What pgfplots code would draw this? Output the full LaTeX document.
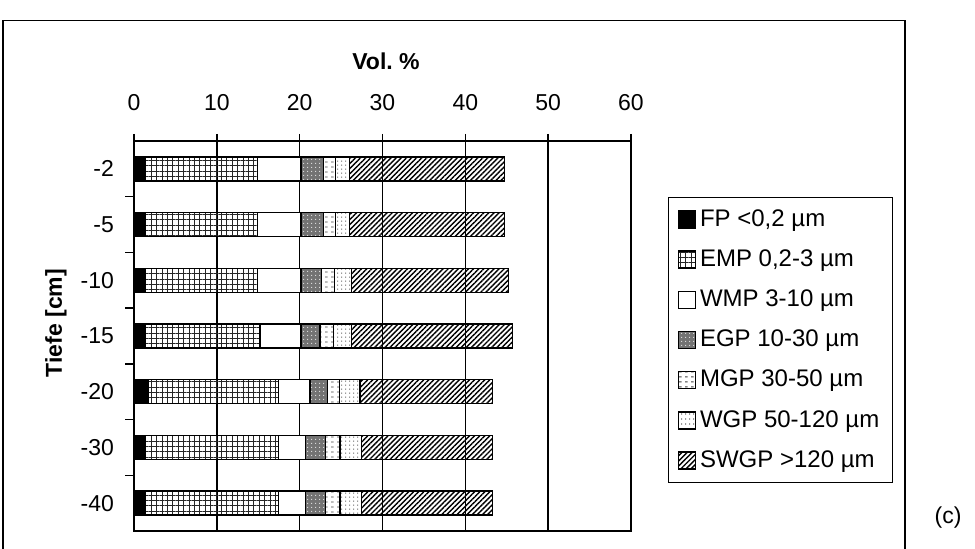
\documentclass[border=0pt]{standalone}
\usepackage{fontspec}
\setmainfont{Liberation Sans}
\usepackage{pgfplots}
\pgfplotsset{compat=1.18}
\usetikzlibrary{patterns,patterns.meta}
\newcommand\cf{\fontsize{11.5pt}{13.8pt}\selectfont}
\newcommand\lf{\fontsize{12pt}{14.4pt}\selectfont}
\pgfdeclarepatternformonly{mgpdash}{\pgfqpoint{0pt}{0pt}}{\pgfqpoint{3pt}{2.5pt}}{\pgfqpoint{3pt}{2.5pt}}{%
  \pgfsetlinewidth{0.5pt}\pgfpathmoveto{\pgfqpoint{0.6pt}{1.2pt}}\pgfpathlineto{\pgfqpoint{2.0pt}{1.2pt}}\pgfusepath{stroke}}
\pgfdeclarepatternformonly{wgpdots}{\pgfqpoint{0pt}{0pt}}{\pgfqpoint{2pt}{2.2pt}}{\pgfqpoint{2pt}{2.2pt}}{%
  \pgfpathrectangle{\pgfqpoint{0.7pt}{0.8pt}}{\pgfqpoint{0.6pt}{0.6pt}}\pgfusepath{fill}}
\pgfdeclarepatternformonly{egpdots}{\pgfqpoint{0pt}{0pt}}{\pgfqpoint{1.8pt}{1.8pt}}{\pgfqpoint{1.8pt}{1.8pt}}{%
  \pgfpathrectangle{\pgfqpoint{0.6pt}{0.6pt}}{\pgfqpoint{0.55pt}{0.55pt}}\pgfusepath{fill}}
\begin{document}
\begin{tikzpicture}
\path[use as bounding box] (0,0) rectangle (487.5pt,-274.5pt);
\draw[line width=0.75pt] (1.5pt,-10.3pt) rectangle (452.5pt,-290pt);
\node[font=\cf] at (474pt,-259pt) {(c)};
\begin{axis}[
  at={(67pt,-70.5pt)}, anchor=north west,
  scale only axis, width=248.5pt, height=195pt,
  xbar stacked, bar width=12pt,
  xmin=0, xmax=60, ymin=-0.5, ymax=6.5, y dir=reverse,
  xtick={0,10,...,60}, xtick pos=right, xticklabel pos=right,
  ytick={0,...,6}, yticklabels={-2,-5,-10,-15,-20,-30,-40}, ytick pos=left,
  minor ytick={0.5,1.5,...,5.5},
  tick align=outside, major tick length=3.5pt, minor tick length=4.5pt,
  major y tick style={draw=none},
  minor y tick style={draw=black, line width=0.75pt},
  major x tick style={draw=black, line width=0.75pt},
  xmajorgrids, grid style={black, line width=0.75pt},
  axis line style={line width=0.75pt},
  tick label style={font=\cf},
  /pgf/number format/assume math mode=true,
  xticklabel shift=8pt,
  yticklabel style={xshift=-3pt},
  xlabel={Vol.\ \%}, ylabel={Tiefe [cm]},
  label style={font=\cf\bfseries},
  xlabel style={at={(axis description cs:0.507,1.205)}, anchor=center},
  ylabel style={at={(axis description cs:-0.157,0.533)}, anchor=center},
  every axis plot/.append style={draw=black, line width=0.75pt},
  legend image code/.code={\draw[#1] (0pt,-4.25pt) rectangle (8.5pt,4.25pt);},
  legend cell align=left,
  legend style={at={(axis description cs:1.0744,0.8564)}, anchor=north west,
    draw=black, line width=0.6pt, font=\lf,
    inner xsep=4.5pt, inner ysep=4pt, row sep=6.2pt,
    /tikz/every even column/.append style={column sep=0pt}},
]
\addplot[fill=black] coordinates {(1.41,0) (1.41,1) (1.41,2) (1.41,3) (1.73,4) (1.41,5) (1.41,6)};
\addlegendentry{FP <0,2 µm}
\addplot[fill=white, pattern={Hatch[angle=0,distance=2.7pt,line width=0.4pt]}, pattern color=black!85] coordinates {(13.52,0) (13.52,1) (13.52,2) (13.80,3) (15.69,4) (16.01,5) (16.01,6)};
\addlegendentry{EMP 0,2-3 µm}
\addplot[fill=white] coordinates {(5.23,0) (5.23,1) (5.23,2) (4.95,3) (3.83,4) (3.31,5) (3.31,6)};
\addlegendentry{WMP 3-10 µm}
\addplot[fill=black!55, postaction={pattern=egpdots, pattern color=white!85!black}] coordinates {(2.69,0) (2.69,1) (2.50,2) (2.30,3) (2.14,4) (2.41,5) (2.41,6)};
\addlegendentry{EGP 10-30 µm}
\addplot[pattern=mgpdash, pattern color=black!75] coordinates {(1.50,0) (1.50,1) (1.52,2) (1.65,3) (1.40,4) (1.73,5) (1.73,6)};
\addlegendentry{MGP 30-50 µm}
\addplot[pattern=wgpdots, pattern color=black!60] coordinates {(1.65,0) (1.65,1) (2.10,2) (2.17,3) (2.49,4) (2.62,5) (2.62,6)};
\addlegendentry{WGP 50-120 µm}
\addplot[pattern={Lines[angle=45,distance=1.8pt,line width=0.7pt]}, pattern color=black] coordinates {(18.71,0) (18.71,1) (18.96,2) (19.44,3) (15.98,4) (15.77,5) (15.77,6)};
\addlegendentry{SWGP >120 µm}
\end{axis}
\end{tikzpicture}
\end{document}
